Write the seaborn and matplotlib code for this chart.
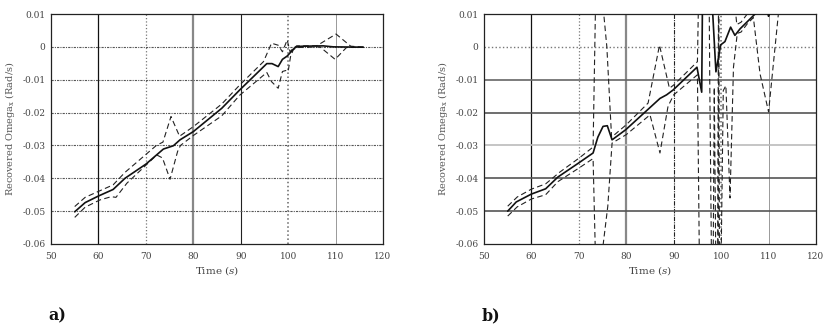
import numpy as np
import pandas as pd
import matplotlib
matplotlib.use("Agg")
import matplotlib.pyplot as plt
import seaborn as sns

# ---- data (time in s, omega_x in rad/s) ----
x_ticks = [50, 60, 70, 80, 90, 100, 110, 120]
y_ticks = [-0.06, -0.05, -0.04, -0.03, -0.02, -0.01, 0, 0.01]
y_tick_labels = ['-0.06', '-0.05', '-0.04', '-0.03', '-0.02', '-0.01', '0', '0.01']

# panel a)
a_est_t = [55, 57.2, 60, 63.1, 65.6, 70, 73.7, 75.8, 77.2, 80, 86, 89.8, 95.5, 96.6,
           97.9, 98.8, 99.8, 101.1, 101.8, 103.2, 107.4, 109.5, 115.8]
a_est_v = [-0.0502, -0.0474, -0.0454, -0.0434, -0.0400, -0.0357, -0.0311, -0.0301, -0.0283,
           -0.0258, -0.0187, -0.0131, -0.0051, -0.0051, -0.0060, -0.0038, -0.0028, -0.0007,
           0.0001, 0.0002, 0.0003, 0.0, -0.0001]
a_up_t = [55, 57.2, 60.3, 63.1, 65.6, 72.3, 73.6, 75.3, 77.1, 80, 86, 89.8, 94.8, 96.5,
          97.9, 98.8, 99.8, 100.4, 101.1, 101.8, 106, 110.1, 113.2, 116]
a_up_v = [-0.0486, -0.0458, -0.0438, -0.0420, -0.0382, -0.0299, -0.0290, -0.0212, -0.0272,
          -0.0243, -0.0174, -0.0116, -0.0045, 0.0011, 0.0005, -0.0015, 0.0021, -0.0015,
          -0.0004, 0.0003, 0.0003, 0.0039, 0.0002, -0.0001]
a_lo_t = [55, 57.2, 60.3, 62.7, 63.7, 66, 72.3, 73.5, 75.1, 76.7, 77.3, 80, 86, 89.8,
          95.5, 96.5, 97.9, 98.8, 99.5, 100.0, 100.5, 101.1, 102, 106.7, 109.9, 112.3, 116]
a_lo_v = [-0.0519, -0.0488, -0.0466, -0.0456, -0.0458, -0.0415, -0.0329, -0.0338, -0.0403,
          -0.0318, -0.0300, -0.0270, -0.0210, -0.0147, -0.0078, -0.0106, -0.0126, -0.0075,
          -0.0072, -0.0075, -0.0030, -0.0008, -0.0002, 0.0, -0.0038, -0.0002, -0.0001]

# panel b)
b_est_t = [55, 56.8, 60, 63, 65.6, 69.9, 73.0, 74.0, 75.1, 76.0, 77.0, 79.9, 84.6, 87.1,
           88.5, 89.9, 94.9, 95.9, 96.1, 97.85, 98.9, 99.9, 100.8, 102.0, 102.9, 104.0,
           107.3, 107.6, 109.8, 110.0, 110.2, 116]
b_est_v = [-0.0500, -0.0472, -0.0448, -0.0432, -0.0396, -0.0354, -0.0323, -0.0275, -0.0242,
           -0.0240, -0.0283, -0.0252, -0.0190, -0.0157, -0.0146, -0.0131, -0.0062, -0.0138,
           0.02, 0.02, -0.0076, 0.0006, 0.0016, 0.0060, 0.0035, 0.0055, 0.0102, 0.02, 0.02,
           0.0093, 0.02, 0.02]
b_up_t = [55, 57, 60, 63, 66, 70, 73.0, 73.6, 74.6, 75.9, 76.9, 80, 84.6, 87.0, 89.1, 90,
          95.0, 95.3, 97.45, 97.6, 98.0, 98.3, 98.55, 98.9, 99.25, 99.45, 102.4, 103.3,
          104.2, 105.5, 106, 113]
b_up_v = [-0.0485, -0.0457, -0.0433, -0.0417, -0.0381, -0.0339, -0.0305, 0.02, 0.02, 0.0,
          -0.0275, -0.0237, -0.0171, 0.0005, -0.0126, -0.0116, -0.0045, 0.02, 0.02, -0.0108,
          -0.07, -0.07, -0.0123, -0.07, -0.07, 0.02, 0.02, 0.0068, 0.0075, 0.0100, 0.02, 0.02]
b_lo_t = [55, 57, 60, 63, 65.6, 70, 73.0, 73.6, 74.3, 76.1, 77.0, 80, 85, 87.1, 88.8, 90,
          95.0, 95.45, 99.35, 99.5, 99.65, 99.95, 100.45, 101.0, 101.87, 102.6, 103.4,
          104.2, 105.5, 106.8, 108.2, 110, 112.1, 113]
b_lo_v = [-0.0515, -0.0487, -0.0463, -0.0450, -0.0410, -0.0369, -0.0340, -0.07, -0.07,
          -0.0485, -0.0293, -0.0267, -0.0207, -0.0323, -0.0181, -0.0146, -0.0085, -0.07,
          -0.07, 0.012, -0.07, -0.07, -0.0133, -0.0118, -0.0460, -0.0062, 0.0041, 0.0045,
          0.0070, 0.0089, -0.0082, -0.0198, 0.0105, 0.02]

panels = [
    ('a)', a_est_t, a_est_v, a_up_t, a_up_v, a_lo_t, a_lo_v),
    ('b)', b_est_t, b_est_v, b_up_t, b_up_v, b_lo_t, b_lo_v),
]

sns.set_style("white")
plt.rcParams['font.family'] = ['DejaVu Serif']
plt.rcParams['mathtext.fontset'] = 'dejavuserif'
plt.rcParams['axes.unicode_minus'] = False

fig = plt.figure(figsize=(8.3, 3.25), dpi=100)
ax_a = fig.add_axes([51 / 830, 1 - 244 / 325, 332 / 830, 230 / 325])
ax_b = fig.add_axes([484 / 830, 1 - 244 / 325, 332 / 830, 230 / 325])

# grid styles copied per line from the scan (mixed solid / dotted)
vgrid = {60: ('-', '#111111', 0.9), 70: (':', '#777777', 0.9), 80: ('-', '#888888', 1.6),
         90: ('-', '#222222', 0.8), 100: (':', '#666666', 1.1), 110: ('-', '#999999', 0.7)}
hgrid_a = {v: ((0, (2, 1, 1, 1)), '#555555', 0.8) for v in y_ticks[1:-1]}
hgrid_b = {-0.05: ('-', '#555555', 1.2), -0.04: ('-', '#555555', 1.2), -0.03: ('-', '#bbbbbb', 1.2),
           -0.02: ('-', '#555555', 1.2), -0.01: ('-', '#666666', 1.2), 0: (':', '#777777', 1.0)}
vgrid_b = dict(vgrid)
vgrid_b[90] = ((0, (4, 1, 1, 1)), '#222222', 0.8)

for ax, (tag, et, ev, ut, uv, lt, lv), hg, vg in [(ax_a, panels[0], hgrid_a, vgrid),
                                                   (ax_b, panels[1], hgrid_b, vgrid_b)]:
    for xv, (ls, c, lw) in vg.items():
        ax.axvline(xv, ls=ls, color=c, lw=lw, zorder=1)
    for yv, (ls, c, lw) in hg.items():
        ax.axhline(yv, ls=ls, color=c, lw=lw, zorder=1)

    sns.lineplot(x=ut, y=uv, ax=ax, sort=False, estimator=None, color='#222222',
                 lw=0.8, zorder=3).lines[-1].set_dashes((5, 3))
    sns.lineplot(x=lt, y=lv, ax=ax, sort=False, estimator=None, color='#222222',
                 lw=0.8, zorder=3).lines[-1].set_dashes((5, 3))
    sns.lineplot(x=et, y=ev, ax=ax, sort=False, estimator=None, color='#111111',
                 lw=1.2, zorder=4)

    ax.set_xlim(50, 120)
    ax.set_ylim(-0.06, 0.01)
    ax.set_xticks(x_ticks)
    ax.set_xticklabels([str(v) for v in x_ticks])
    ax.set_yticks(y_ticks)
    ax.set_yticklabels(y_tick_labels)
    ax.tick_params(labelsize=6.5, colors='#444444', length=0)
    ax.tick_params(axis='x', pad=6)
    ax.tick_params(axis='y', pad=4)
    for s in ax.spines.values():
        s.set_color('#222222')
        s.set_linewidth(0.9)
    ax.set_xlabel('Time ($s$)', fontsize=7.5, color='#444444', labelpad=2)
    ax.set_ylabel('Recovered Omega$_{\\mathregular{x}}$ (Rad/s)', fontsize=7,
                  color='#555555', labelpad=4)
    x0 = ax.get_position().x0
    fig.text(x0 - 0.003, 1 - 320 / 325, tag, fontsize=11.5, fontweight='bold', ha='left',
             va='baseline', color='#111111')

fig.savefig('out.png', dpi=100)
